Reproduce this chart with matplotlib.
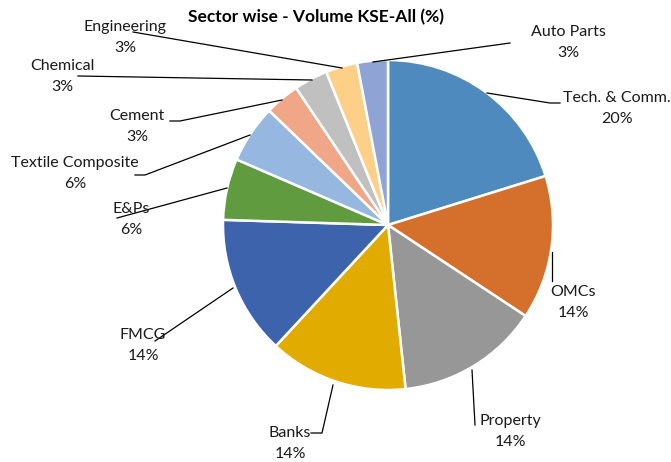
import matplotlib
matplotlib.use("Agg")
import matplotlib.pyplot as plt

# sector volume shares (%), clockwise from 12 o'clock
sectors = ['Tech. & Comm.', 'OMCs', 'Property', 'Banks', 'FMCG', 'E&Ps',
           'Textile Composite', 'Cement', 'Chemical', 'Engineering', 'Auto Parts']
volume = [20.2, 14.1, 14.0, 13.6, 13.6, 6.0, 5.7, 3.4, 3.3, 3.1, 3.0]

colors = ['#4f8abf', '#d4702b', '#979797', '#e1ab00', '#3d63ac', '#609b3f',
          '#96b8e0', '#f0a788', '#c0c0c0', '#fecf87', '#8fa4d5']

W, H = 671, 462
CX, CY, R = 388, 225, 165

# label centre (x, y of first line) and leader line points, in pixel coords (y down)
label_pos = {
    'Tech. & Comm.': ((617, 98), [(560, 103), (550, 103), (487, 93)]),
    'OMCs': ((573, 292), [(552, 281), (552, 252)]),
    'Property': ((510, 421), [(475, 425), (472, 370)]),
    'Banks': ((290, 433), [(311, 433), (322, 433), (333, 385)]),
    'FMCG': ((143, 335), [(155, 341), (233, 288)]),
    'E&Ps': ((131, 209), [(117, 218), (227, 188)]),
    'Textile Composite': ((75, 163), [(135, 175), (145, 175), (250, 135)]),
    'Cement': ((137, 116), [(170, 121), (180, 121), (282, 100)]),
    'Chemical': ((62, 66), [(78, 76), (312, 80)]),
    'Engineering': ((125, 27), [(133, 32), (342, 68)]),
    'Auto Parts': ((568, 32), [(510, 43), (373, 62)]),
}

fig = plt.figure(figsize=(W / 100, H / 100), dpi=100)
ax = fig.add_axes([0, 0, 1, 1])

ax.pie(volume, colors=colors, startangle=90, counterclock=False,
       center=(CX, H - CY), radius=R,
       wedgeprops=dict(edgecolor='white', linewidth=1.8))
ax.set_xlim(0, W)
ax.set_ylim(0, H)
ax.set_aspect('equal')
ax.axis('off')

font = 'Lato'
for name, val in zip(sectors, volume):
    (tx, ty), line = label_pos[name]
    xs = [p[0] for p in line]
    ys = [H - p[1] for p in line]
    ax.plot(xs, ys, color='black', lw=0.9)
    ax.text(tx, H - ty, name, ha='center', va='center', fontsize=11.5,
            family=font, color='#1a1a1a')
    ax.text(tx, H - ty - 21, f'{val:.0f}%', ha='center', va='center',
            fontsize=11.5, family=font, color='#1a1a1a')

ax.text(316, H - 17, 'Sector wise - Volume KSE-All (%)', ha='center',
        va='center', fontsize=12.5, fontweight='bold', family=font, color='black')

fig.savefig('out.png', dpi=100)
